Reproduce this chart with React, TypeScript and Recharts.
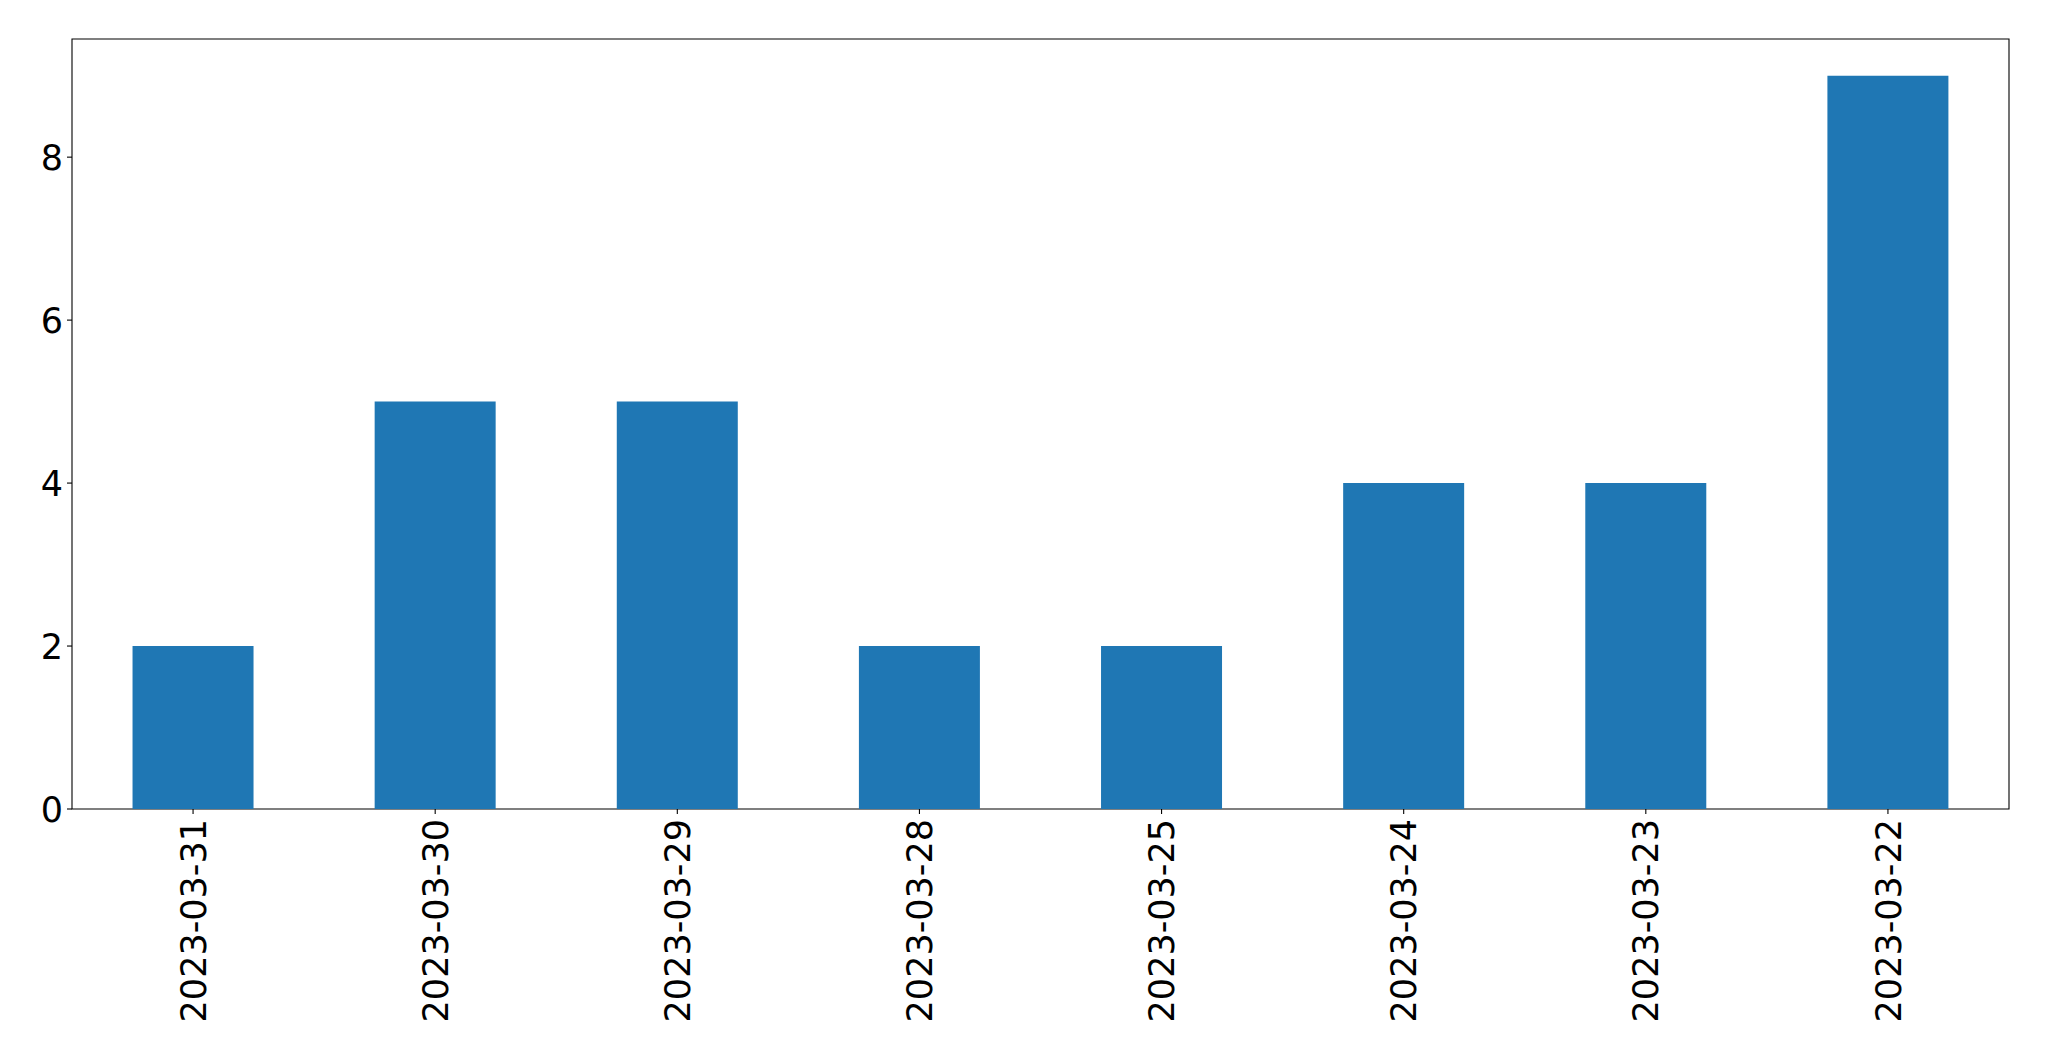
import React from "react"
import { Bar, BarChart, ReferenceArea, XAxis, YAxis } from "recharts"

const dates = [
  "2023-03-31",
  "2023-03-30",
  "2023-03-29",
  "2023-03-28",
  "2023-03-25",
  "2023-03-24",
  "2023-03-23",
  "2023-03-22",
]
const counts = [2, 5, 5, 2, 2, 4, 4, 9]
const yTicks = [0, 2, 4, 6, 8]

const data = dates.map((d, i) => ({ date: d, count: counts[i] }))

const FONT = "DejaVu Sans"
const FONT_SIZE = 35

const XTick = (props: any) => {
  const { x, y, payload } = props
  return (
    <g transform={`translate(${x},${y})`}>
      <text
        transform="rotate(-90)"
        textAnchor="end"
        dy="0.36em"
        fill="#000"
        fontFamily={FONT}
        fontSize={FONT_SIZE}
      >
        {payload.value}
      </text>
    </g>
  )
}

const YTick = (props: any) => {
  const { x, y, payload } = props
  return (
    <text
      x={x}
      y={y}
      dy="0.36em"
      textAnchor="end"
      fill="#000"
      fontFamily={FONT}
      fontSize={FONT_SIZE}
    >
      {payload.value}
    </text>
  )
}

export default function App() {
  return (
    <div style={{ position: "absolute", left: 0, top: 0, background: "#fff" }}>
      <BarChart
        width={2049}
        height={1061}
        data={data}
        margin={{ top: 39, right: 40, left: 0, bottom: 0 }}
        barCategoryGap="25%"
      >
        <XAxis
          dataKey="date"
          height={252}
          axisLine={false}
          tickLine={{ stroke: "#000", strokeWidth: 1.1 }}
          tickSize={5}
          tickMargin={5}
          interval={0}
          tick={<XTick />}
        />
        <YAxis
          width={72}
          domain={[0, 9.45]}
          ticks={yTicks}
          axisLine={false}
          tickLine={{ stroke: "#000", strokeWidth: 1.1 }}
          tickSize={5}
          tickMargin={4}
          tick={<YTick />}
        />
        <Bar dataKey="count" fill="#1f77b4" isAnimationActive={false} />
        <ReferenceArea
          y1={0}
          y2={9.45}
          fill="none"
          fillOpacity={0}
          stroke="#000"
          strokeWidth={1.1}
          ifOverflow="visible"
        />
      </BarChart>
    </div>
  )
}
